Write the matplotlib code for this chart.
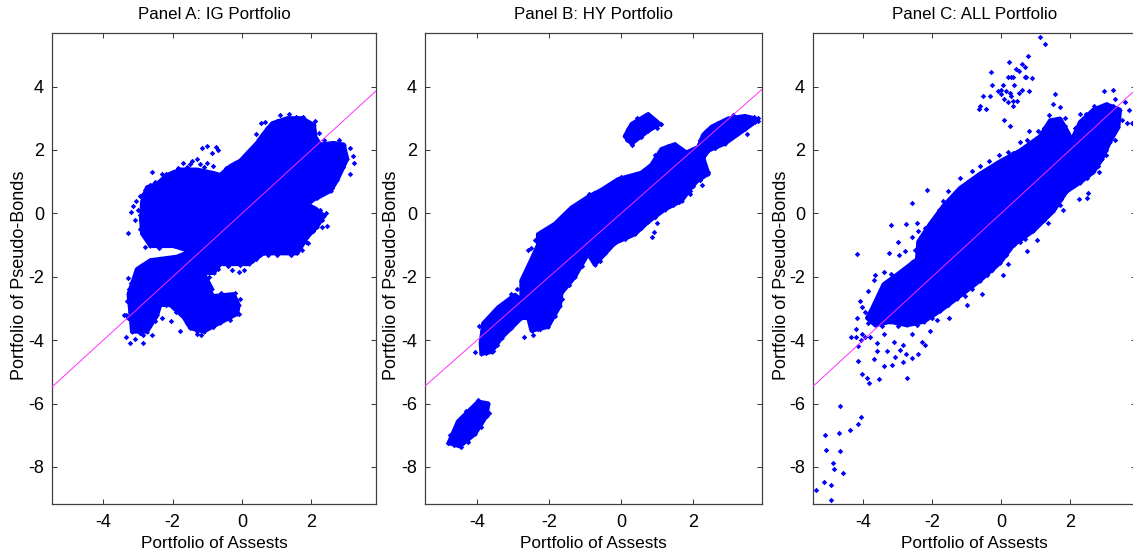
import matplotlib
matplotlib.use('Agg')
import matplotlib.pyplot as plt

plt.rcParams['font.family'] = ['Liberation Sans', 'DejaVu Sans']
plt.rcParams['axes.unicode_minus'] = False

titles = ['Panel A: IG Portfolio', 'Panel B: HY Portfolio', 'Panel C: ALL Portfolio']
x_label = 'Portfolio of Assests'
y_label = 'Portfolio of Pseudo-Bonds'
x_ticks = [-4, -2, 0, 2]
y_ticks = [-8, -6, -4, -2, 0, 2, 4]

# outlines of the solid clouds (x, y)
a_main = [(-2.91,-0.19),(-2.88,0.37),(-2.74,0.82),(-2.45,0.93),(-2.16,1.21),(-1.78,1.38),(-1.30,1.38),
          (-0.82,1.27),(-0.63,1.21),(-0.34,1.49),(-0.05,1.66),(0.19,1.94),(0.43,2.22),(0.62,2.51),
          (0.87,2.84),(1.30,3.00),(1.73,3.0),(2.07,2.79),(2.12,2.39),(2.26,2.17),(2.64,2.22),(2.93,2.17),
          (3.03,1.72),(2.74,1.04),(2.55,0.71),(2.16,0.48),(1.83,0.31),(2.12,0.15),(2.36,-0.08),(2.16,-0.42),
          (1.88,-0.75),(1.59,-1.26),(0.62,-1.26),(0.19,-1.60),(-0.63,-1.60),(-0.82,-1.88),(-1.11,-1.88),
          (-1.01,-2.10),(-0.87,-2.38),(-1.06,-2.72),(-0.82,-2.61),(-0.24,-2.55),(-0.10,-2.89),(-0.14,-3.17),
          (-0.63,-3.45),(-1.11,-3.73),(-1.49,-3.62),(-1.68,-3.28),(-2.07,-2.89),(-2.36,-2.89),(-2.45,-3.22),
          (-2.74,-3.73),(-3.17,-3.73),(-3.22,-3.11),(-3.27,-2.55),(-3.03,-1.76),(-2.64,-1.48),(-1.88,-1.37),
          (-1.49,-1.20),(-1.97,-1.03),(-2.64,-1.03),(-2.88,-0.64)]
b_main = [(-3.90,-4.09),(-3.83,-3.47),(-3.42,-2.97),(-2.95,-2.57),(-2.77,-2.74),(-2.77,-2.12),(-2.49,-1.45),
          (-2.31,-1.0),(-2.31,-0.66),(-1.84,-0.33),(-1.38,0.18),(-0.92,0.52),(-0.55,0.74),(-0.08,1.08),
          (0.56,1.28),(0.84,1.53),(1.12,2.03),(1.49,2.18),(1.81,1.92),(2.14,2.09),(2.28,2.48),(2.51,2.73),
          (2.97,2.99),(3.44,3.07),(3.72,2.99),(3.72,2.88),(3.44,2.65),(2.88,2.20),(2.42,1.98),(2.28,1.75),
          (2.42,1.25),(2.05,0.97),(1.68,0.40),(1.21,0.12),(0.75,-0.27),(0.38,-0.66),(-0.18,-0.94),(-0.73,-1.62),
          (-0.92,-1.28),(-1.29,-2.01),(-1.66,-2.52),(-1.70,-2.91),(-2.03,-3.58),(-2.49,-3.70),(-2.58,-3.30),
          (-2.77,-3.30),(-3.32,-3.92),(-3.60,-4.37),(-3.88,-4.43)]
b_top = [(0.10,2.43),(0.29,2.82),(0.75,3.13),(1.07,2.82),(0.75,2.60),(0.29,2.20)]
b_low = [(-4.79,-7.24),(-4.53,-6.56),(-3.97,-5.94),(-3.69,-6.0),(-3.74,-6.39),(-4.06,-6.96),(-4.48,-7.35)]
c_main = [(-3.75,-3.02),(-3.41,-2.24),(-2.98,-1.90),(-2.44,-1.45),(-2.40,-0.89),(-2.06,-0.33),(-1.67,0.24),
          (-1.19,0.80),(-0.61,1.25),(-0.03,1.64),(0.55,1.98),(1.13,2.43),(1.42,2.93),(1.71,2.99),(1.95,2.54),
          (2.05,2.31),(2.29,2.88),(2.68,3.27),(3.06,3.44),(3.45,3.27),(3.40,2.71),(3.16,2.26),(2.92,1.70),
          (2.68,1.30),(2.29,0.97),(1.90,0.69),(1.52,0.07),(0.94,-0.55),(0.36,-1.0),(-0.03,-1.56),(-0.61,-2.12),
          (-1.29,-2.69),(-1.77,-3.08),(-2.25,-3.42),(-2.73,-3.53),(-3.22,-3.42),(-3.65,-3.53),(-3.89,-3.30)]

# single points outside the solid clouds
a_pts = [(-3.30,-0.62),(-3.13,0.23),(-3.05,0.40),(-3.20,0.05),(-3.10,-0.20),(-3.00,0.10),(-2.85,0.60),(-2.60,1.30),
         (-2.30,1.25),(-1.70,1.60),(-1.45,1.65),(-1.30,1.70),(-1.15,2.05),(-1.02,2.12),(-0.88,1.90),(-0.75,2.08),
         (-0.70,2.00),(-1.00,1.60),(-0.85,1.50),(-1.20,1.55),(0.40,2.50),(0.55,2.85),(0.65,2.88),(1.10,3.10),
         (1.35,3.12),(1.55,3.05),(1.75,3.05),(2.10,2.90),(2.22,2.55),(2.80,2.30),(3.10,2.05),(3.20,1.80),
         (3.22,1.60),(3.12,1.25),(2.90,1.45),(2.75,1.15),(2.60,0.80),(2.40,0.70),(2.45,-0.40),(2.30,-0.42),
         (2.42,0.00),(1.90,-0.95),(-0.30,-1.80),(-0.10,-1.85),(0.05,-1.80),(0.40,-1.45),(-0.70,-1.75),
         (-3.30,-2.05),(-3.25,-2.40),(-3.35,-3.20),(-3.40,-3.22),(-3.35,-3.90),(-3.22,-4.10),(-3.10,-3.95),
         (-2.85,-4.08),(-2.85,-3.85),(-2.60,-3.85),(-2.30,-3.30),(-2.05,-3.40),(-1.80,-3.70),(-1.30,-3.80),
         (-1.18,-3.85),(-0.10,-3.18),(-0.20,-2.50),(-0.40,-2.60),
         # along the cloud edges
         (-2.95,0.55),(-2.80,0.75),(-2.65,0.90),(-2.50,1.00),(-2.35,1.05),(-2.20,1.25),(-2.00,1.32),(-1.85,1.42),
         (-1.60,1.45),(-1.50,1.55),(-1.10,1.45),(-0.50,1.30),(-0.45,1.42),(-0.20,1.60),(0.10,1.85),(0.30,2.05),
         (0.50,2.35),(0.72,2.70),(1.00,2.90),(2.00,2.60),(2.35,2.30),(2.50,2.10),(2.85,1.80),(2.95,1.95),(2.65,1.25),
         (2.45,0.95),(2.30,0.65),(2.00,0.40),(2.25,0.10),(2.30,-0.20),(2.05,-0.55),(1.85,-0.90),(1.72,-1.15),(1.40,-1.32),
         (1.00,-1.30),(0.75,-1.32),(0.30,-1.50),(-0.05,-1.62),(-0.40,-1.65),(-0.95,-2.00),(-0.90,-2.50),(-0.60,-2.50),
         (-0.05,-2.70),(-0.35,-3.35),(-0.85,-3.60),(-1.30,-3.72),(-1.60,-3.45),(-1.90,-3.10),(-2.20,-2.90),(-2.50,-3.40),
         (-2.95,-3.78),(-3.28,-3.30),(-3.32,-2.75),(-3.20,-2.20),(-2.90,-1.65),(-2.40,-1.48),(-2.10,-1.42),(-2.40,-1.10),
         (-2.80,-1.05),(-2.95,-0.50),(-2.95,-0.05)]
b_pts = [(-4.05,-4.37),(-3.75,-4.40),(-3.55,-4.35),(-2.90,-2.40),(-2.75,-2.10),(-3.05,-2.55),(-3.35,-2.95),
         (-2.70,-3.90),(-2.45,-3.85),(-2.30,-3.65),(-2.50,-1.10),(-2.60,-1.15),(-2.40,-0.85),(-1.60,-0.30),
         (-0.90,0.60),(-0.75,0.65),(0.00,1.15),(0.90,-0.60),(0.85,-0.75),(1.00,-0.30),(1.30,0.40),(1.60,0.35),
         (1.90,0.60),(2.00,0.85),(2.25,0.90),(2.40,1.30),(2.20,2.30),(3.10,3.10),(3.55,3.05),(3.70,3.05),
         (3.80,3.00),(3.80,2.90),(3.50,2.50),(0.15,2.30),(0.30,2.15),(1.12,2.83),(1.00,2.70),(-3.95,-3.55),
         (-3.65,-3.70),(-3.35,-3.20),(-4.82,-7.26),(-4.45,-7.38),(-3.97,-5.90),(-3.68,-6.30),
         # along the cloud edges
         (-3.15,-2.80),(-2.60,-1.75),(-2.40,-1.25),(-2.10,-0.50),(-1.60,-0.10),(-1.20,0.30),(-0.30,0.90),(0.25,1.18),
         (0.95,1.85),(1.30,2.12),(2.35,2.60),(2.70,2.85),(3.20,3.02),(3.00,2.35),(2.60,2.05),(2.30,1.50),(2.20,1.05),
         (1.90,0.72),(1.45,0.25),(0.95,-0.10),(0.55,-0.45),(0.10,-0.80),(-0.45,-1.25),(-0.60,-1.50),(-1.10,-1.65),
         (-1.45,-2.25),(-1.65,-2.70),(-1.85,-3.25),(-2.25,-3.65),(-3.05,-3.62),(-3.45,-4.15),(-4.50,-6.70),(-4.30,-6.25),
         (-4.10,-6.08),(-3.75,-6.15),(-3.90,-6.75),(-4.25,-7.20),(-4.65,-7.30),(-4.75,-7.00),(0.45,3.00),(0.20,2.65),
         (0.95,2.95),(0.55,2.40)]
c_pts = [(-5.36,-8.73),(-5.13,-8.49),(-4.93,-8.56),(-4.93,-9.03),(-4.59,-8.20),(-4.86,-8.07),(-4.89,-7.89),
         (-5.08,-7.48),(-4.68,-7.51),(-5.11,-6.98),(-4.69,-6.92),(-4.38,-6.83),(-4.14,-6.66),(-4.06,-6.44),
         (-4.67,-6.08),(-4.14,-4.66),(-4.03,-5.06),(-3.89,-5.21),(-3.84,-5.35),(-3.53,-5.22),(-2.73,-5.18),
         (-3.41,-4.82),(-3.17,-4.80),(-3.07,-4.54),(-2.93,-4.30),(-2.85,-4.70),(-2.75,-4.45),(-2.58,-4.57),
         (-2.40,-4.45),(-3.70,-4.60),(-3.60,-4.35),(-3.60,-4.10),(-3.30,-4.35),(-3.10,-4.05),(-2.85,-4.15),
         (-4.22,-3.90),(-4.35,-3.90),(-4.22,-3.65),(-4.18,-3.30),(-4.08,-4.00),(-4.15,-4.20),(-4.05,-3.80),
         (-3.95,-3.90),(-3.80,-3.90),(-3.40,-3.80),(-2.60,-3.80),(-2.20,-4.15),(-2.30,-4.05),(-2.05,-3.70),
         (-4.18,-1.29),(-3.20,-0.37),(-2.75,-0.35),(-2.60,0.33),(-2.15,0.73),(-2.45,-0.30),(-2.40,-0.55),
         (-3.00,-0.90),(-2.95,-1.30),(-3.25,-1.25),(-2.80,-1.20),(-2.60,-0.75),(-3.65,-1.95),(-3.70,-2.10),
         (-3.85,-2.45),(-4.10,-2.75),(-4.05,-2.95),(-3.40,-1.85),(-3.20,-1.90),(-1.70,0.40),(-1.55,0.70),
         (-1.20,1.10),(-0.85,1.35),(-0.60,1.50),(-0.35,1.65),(-0.05,1.85),(0.20,1.95),(0.55,2.25),(0.75,2.30),
         (0.80,2.60),(1.07,2.60),(1.40,3.10),(1.50,3.45),(1.56,3.75),(1.72,3.35),(1.85,3.00),(2.30,3.15),(2.45,3.15),
         (2.70,3.40),(3.00,3.85),(3.30,3.60),(3.25,3.90),(3.60,3.50),(3.70,3.25),(3.65,2.85),(3.80,2.85),(3.50,2.95),
         (3.30,2.30),(3.05,1.85),(2.85,1.30),(2.53,0.65),(2.50,0.50),(2.25,0.45),(1.80,0.10),(1.35,-0.30),(1.05,-0.85),
         (0.75,-1.18),(0.20,-1.60),(0.05,-1.95),(-0.55,-2.55),(-1.00,-2.90),(-1.50,-3.30),(-1.85,-3.35),
         # group near the top
         (-0.65,3.30),(-0.60,3.40),(-0.45,3.30),(-0.52,3.70),(-0.33,3.70),(-0.28,4.45),(-0.25,4.05),(-0.10,3.85),
         (0.00,3.90),(0.05,4.05),(0.00,3.75),(0.08,3.60),(0.15,3.85),(0.20,3.50),(0.25,3.80),(0.30,3.70),(0.35,3.55),
         (0.35,3.40),(0.45,3.55),(0.53,3.80),(0.38,4.05),(0.62,3.90),(0.80,3.85),(0.70,4.30),(0.20,4.30),(0.28,4.30),
         (0.22,4.78),(0.35,4.30),(0.42,4.55),(0.52,4.50),(0.62,4.70),(0.68,4.62),(0.78,4.98),(0.72,4.30),
         (0.90,4.28),(0.08,2.95),(0.25,2.75),(1.13,5.57),(1.27,5.33),
         # along the cloud edges
         (-3.55,-2.70),(-3.30,-2.40),(-3.10,-2.10),(-2.80,-1.75),(-2.60,-1.55),(-2.50,-1.15),(-2.30,-0.75),(-2.20,-0.45),
         (-1.90,-0.10),(-1.80,0.10),(-1.45,0.45),(-1.35,0.65),(-0.95,1.00),(-0.75,1.10),(-0.30,1.40),(0.25,1.75),(0.35,1.90),
         (0.85,2.20),(1.00,2.35),(1.25,2.70),(1.85,2.75),(2.15,2.70),(2.45,3.05),(2.85,3.30),(3.25,3.40),(3.40,3.05),
         (3.25,2.50),(3.05,2.00),(2.80,1.50),(2.50,1.10),(2.10,0.85),(1.75,0.45),(1.70,0.25),(1.25,-0.20),(1.10,-0.35),
         (0.70,-0.80),(0.55,-0.90),(0.15,-1.30),(-0.25,-1.80),(-0.40,-1.95),(-0.85,-2.40),(-1.05,-2.60),(-1.55,-2.90),
         (-2.00,-3.30),(-2.45,-3.52),(-3.00,-3.55),(-3.45,-3.55),(-3.85,-3.45),(-3.95,-3.10),(-3.65,-2.85)]

a_regions = [a_main]
b_regions = [b_main, b_top, b_low]
c_regions = [c_main]
panel_regions = [a_regions, b_regions, c_regions]
panel_points = [a_pts, b_pts, c_pts]

# axes boxes in pixels: left, right, y label position
boxes = [(52.3, 376.3, 28), (425.3, 762.3, 400), (813.3, 1135.5, 790)]
x_limits = [(-5.47, 3.87), (-5.44, 3.92), (-5.45, 3.90)]
y_limits = (-9.17, 5.69)

W, H = 1133, 557
fig = plt.figure(figsize=(W/100, H/100), dpi=100)

for i in range(3):
    left, right, lab = boxes[i]
    ax = fig.add_axes([left/W, 1-504/H, (right-left)/W, (504-33)/H])
    for reg in panel_regions[i]:
        xs = [p[0] for p in reg]
        ys = [p[1] for p in reg]
        ax.fill(xs, ys, facecolor='#0000ff', edgecolor='#0000ff', lw=3, joinstyle='round', zorder=2)
        ax.plot(xs, ys, 'D', color='#0000ff', ms=2.4, mew=0, zorder=2)
    px = [p[0] for p in panel_points[i]]
    py = [p[1] for p in panel_points[i]]
    ax.plot(px, py, 'D', color='#0000ff', ms=2.8, mew=0, zorder=2)

    # 45 degree line across the axes
    ax.plot([-5.5, 3.95], [-5.5, 3.95], color='#ff30ff', lw=0.7, zorder=3)

    ax.set_xlim(x_limits[i])
    ax.set_ylim(y_limits)
    ax.set_xticks(x_ticks)
    ax.set_yticks(y_ticks)
    ax.tick_params(direction='in', top=True, right=True, length=3.5, width=0.7,
                   color='#333333', labelsize=13)
    ax.tick_params(axis='x', pad=7)
    ax.tick_params(axis='y', pad=6)
    for s in ax.spines.values():
        s.set_linewidth(0.9)
        s.set_color('#404040')
    ax.set_title(titles[i], fontsize=12.2, pad=10)
    ax.set_xlabel(x_label, fontsize=12.4, labelpad=4)
    ax.set_ylabel(y_label, fontsize=13)
    ax.yaxis.set_label_coords((lab-left)/(right-left), 0.485)

fig.savefig('out.png', dpi=100)
